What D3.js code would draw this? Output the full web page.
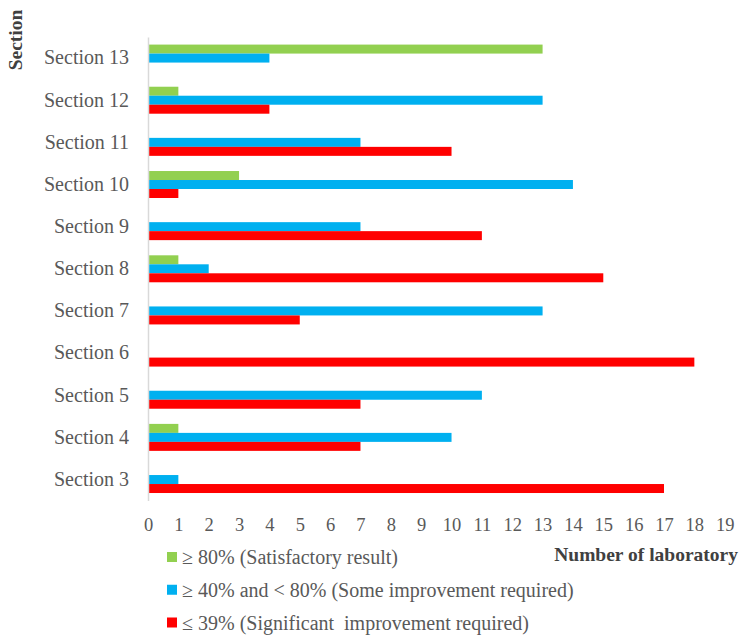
<!DOCTYPE html>
<html>
<head>
<meta charset="utf-8">
<script src="https://cdn.jsdelivr.net/npm/d3@7"></script>
<style>
  body { margin: 0; background: white; }
</style>
</head>
<body>
<div id="container"></div>
<script>
let w = 744;
let h = 640;
let serif = "'Liberation Serif', 'Times New Roman', serif";

// DATA
let sections = ["Section 13", "Section 12", "Section 11", "Section 10", "Section 9", "Section 8",
                "Section 7", "Section 6", "Section 5", "Section 4", "Section 3"];
let satisfactory = [13, 1, 0, 3, 0, 1, 0, 0, 0, 1, 0];
let someImprovement = [4, 13, 7, 14, 7, 2, 13, 0, 11, 10, 1];
let significant = [0, 4, 10, 1, 11, 15, 5, 18, 7, 7, 17];
let seriesNames = ["≥ 80% (Satisfactory result)",
                   "≥ 40% and < 80% (Some improvement required)",
                   "≤ 39% (Significant  improvement required)"];
let seriesColors = ["#92D050", "#00B0F0", "#FF0000"];
let xTicks = d3.range(0, 20);

let seriesValues = [satisfactory, someImprovement, significant];

// SVG
let viz = d3.select("#container").append("svg")
    .attr("width", w)
    .attr("height", h)
    .style("background-color", "white")
;

// SCALES
let xScale = d3.scaleLinear().domain([0, 19]).range([148, 724.7]);
let yScale = d3.scaleBand().domain(sections).range([37, 500.6])
    .paddingInner(0.36).paddingOuter(0.18);
let subScale = d3.scaleBand().domain([0, 1, 2]).range([0, yScale.bandwidth()]);

// BARS
let groups = viz.selectAll(".section").data(sections).enter()
  .append("g")
    .attr("class", "section")
    .attr("transform", (d) => "translate(0," + yScale(d) + ")")
;

groups.selectAll("rect")
  .data((d, i) => seriesValues.map((vals, s) => ({ s: s, v: vals[i] })))
  .enter()
  .append("rect")
    .attr("x", xScale(0))
    .attr("y", (d) => subScale(d.s))
    .attr("width", (d) => xScale(d.v) - xScale(0))
    .attr("height", subScale.bandwidth())
    .attr("fill", (d) => seriesColors[d.s])
;

// Y AXIS
let yAxis = d3.axisLeft(yScale).tickSize(0).tickSizeOuter(0).tickPadding(19);
let yG = viz.append("g")
    .attr("transform", "translate(" + xScale(0) + ",0)")
    .call(yAxis);
yG.select(".domain").attr("stroke", "#d9d9d9").attr("stroke-width", 1.5);
yG.selectAll("text")
    .style("font-family", serif)
    .style("font-size", "20px")
    .attr("fill", "#595959");

// X AXIS
let xAxis = d3.axisBottom(xScale).tickValues(xTicks).tickSize(0).tickPadding(17);
let xG = viz.append("g")
    .attr("transform", "translate(0,501)")
    .call(xAxis);
xG.select(".domain").remove();
xG.selectAll("text")
    .style("font-family", serif)
    .style("font-size", "18.5px")
    .attr("fill", "#595959");

// AXIS TITLES
viz.append("text")
    .attr("transform", "translate(22,40) rotate(-90)")
    .attr("text-anchor", "middle")
    .style("font-family", serif)
    .style("font-size", "19.5px")
    .style("font-weight", "bold")
    .attr("fill", "#404040")
    .text("Section");

viz.append("text")
    .attr("x", 738)
    .attr("y", 561)
    .attr("text-anchor", "end")
    .style("font-family", serif)
    .style("font-size", "19.5px")
    .style("font-weight", "bold")
    .attr("fill", "#404040")
    .text("Number of laboratory");

// LEGEND
let legend = viz.selectAll(".legend").data(seriesNames).enter()
  .append("g")
    .attr("class", "legend")
    .attr("transform", (d, i) => "translate(167," + (557 + i * 32.75) + ")")
;
legend.append("rect")
    .attr("x", 0)
    .attr("y", -5)
    .attr("width", 10)
    .attr("height", 10)
    .attr("fill", (d, i) => seriesColors[i]);
legend.append("text")
    .attr("x", 15)
    .attr("y", 7)
    .style("font-family", serif)
    .style("font-size", "20px")
    .style("white-space", "pre")
    .attr("fill", "#595959")
    .text((d) => d);
</script>
</body>
</html>
